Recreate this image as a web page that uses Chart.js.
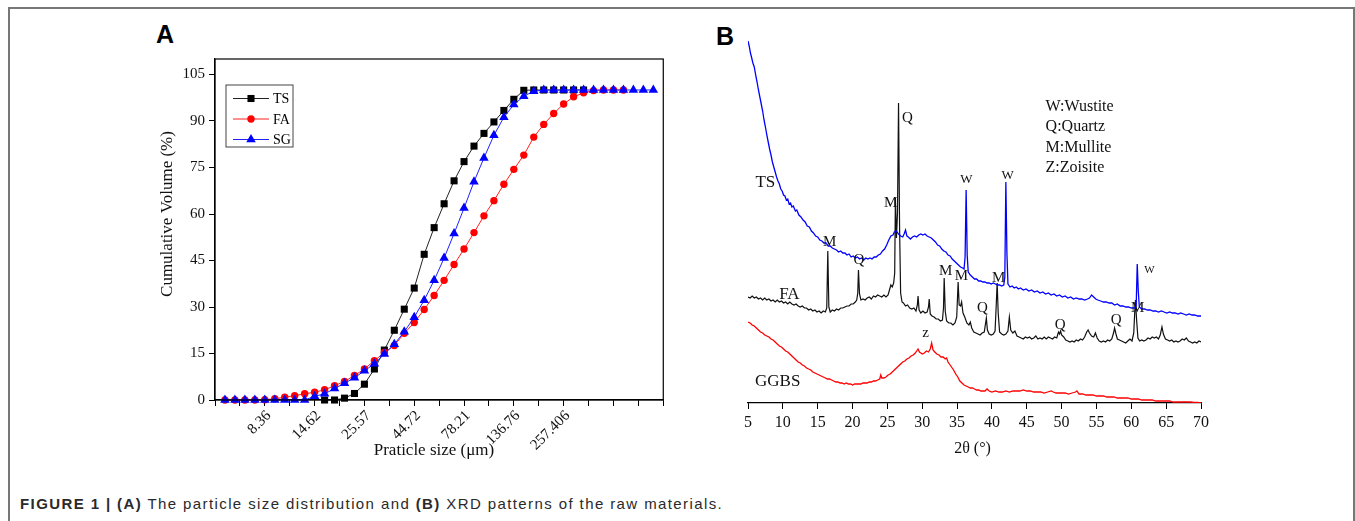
<!DOCTYPE html>
<html lang="en">
<head>
  <meta charset="UTF-8">
  <title>Particle size distribution and XRD patterns</title>
  <script src="https://cdn.jsdelivr.net/npm/chart.js"></script>
  <style>
    html, body {
      margin: 0;
      padding: 0;
      background: #fff;
    }
    body {
      width: 1355px;
      height: 521px;
      position: relative;
      overflow: hidden;
      font-family: 'Liberation Serif', 'Times New Roman', serif;
    }
    .frame {
      position: absolute;
      left: 8px;
      top: 7px;
      width: 1343px;
      height: 600px;
      border: 2px solid #777;
      border-bottom: none;
    }
    .tag {
      position: absolute;
      font: bold 25px 'Liberation Sans', Arial, sans-serif;
      line-height: 1;
      color: #000;
    }
    #tagA { left: 156px; top: 22px; }
    #tagB { left: 716px; top: 24px; }
    .caption {
      position: absolute;
      left: 20px;
      top: 496px;
      font: 15px 'Liberation Sans', Arial, sans-serif;
      letter-spacing: 1.4px;
      line-height: 1;
      color: #2a2a2a;
      white-space: nowrap;
    }
    canvas { position: absolute; }
    #psd { left: 158px; top: 46px; }
    #xrd { left: 700px; top: 30px; }
  </style>
</head>
<body>
  <div class="frame"></div>
  <div class="tag" id="tagA">A</div>
  <div class="tag" id="tagB">B</div>
  <canvas id="psd" width="519" height="424"></canvas>
  <canvas id="xrd" width="540" height="440"></canvas>
  <div class="caption"><b>FIGURE 1 | (A)</b> The particle size distribution and <b>(B)</b> XRD patterns of the raw materials.</div>

  <script>
    // ---- (A) particle size distribution: one value per sieve step ----
    const sizeTickSteps = [4, 9, 14, 19, 24, 29, 34];
    const sizeTickLabels = ['8.36', '14.62', '25.57', '44.72', '78.21', '136.76', '257.406'];
    const volumeTicks = [0, 15, 30, 45, 60, 75, 90, 105];

    const tsVolume = [null, null, null, null, null, null, null, null, null, null,
      0, 0, 0.6, 2.1, 5.1, 10.0, 16.1, 22.5, 29.3, 36.1, 47.0, 55.6, 63.3, 70.7, 76.9,
      81.9, 86.0, 89.7, 93.4, 97.0, 99.9, 100, 100, 100, 100, 100, 100];
    const faVolume = [0, 0, 0, 0, 0.1, 0.4, 0.9, 1.4, 2.0, 2.5, 3.3, 4.6, 6.0, 7.9, 10.0,
      12.7, 15.3, 17.6, 21.5, 25.0, 29.2, 33.7, 38.6, 43.7, 48.7, 54.0, 59.4, 64.3, 69.6,
      74.4, 79.0, 84.8, 88.9, 92.4, 95.5, 97.8, 99.1, 99.8, 100, 100, 100];
    const sgVolume = [0, 0, 0, 0, 0, 0, 0, 0, 0, 1.2, 2.0, 3.7, 5.4, 7.2, 9.4, 11.7, 14.8,
      18.0, 22.0, 26.7, 32.2, 38.6, 45.8, 53.7, 61.9, 70.4, 78.1, 85.4, 91.2, 95.3, 98.0,
      99.6, 100, 100, 100, 100, 100, 100, 100, 100, 100, 100, 100, 100];

    // ---- (B) XRD patterns: [2θ, counts above the baseline] ----
    const tsPattern = [[5.0,362],[5.2,356],[5.35,350],[5.5,346],[5.7,340],[5.9,336],[6.1,328],[6.3,321],[6.5,313],[6.7,306],[6.9,299],[7.1,292],[7.3,283],[7.5,276],[7.7,268],[7.9,261],[8.1,254],[8.3,248],[8.5,241],[8.7,236],[8.9,231],[9.1,226],[9.3,222],[9.5,219],[9.7,214],[9.9,212],[10.1,208],[10.3,207],[10.5,203],[10.7,204],[10.9,199],[11.1,200],[11.3,196],[11.5,197],[11.8,192],[12.0,193],[12.3,188],[12.6,186],[12.9,183],[13.2,181],[13.5,177],[13.8,176],[14.1,172],[14.4,170],[14.7,167],[15.0,166],[15.3,163],[15.6,162],[15.9,160],[16.2,160],[16.5,157],[16.8,157],[17.1,155],[17.4,154],[17.7,153],[18.0,151],[18.3,152],[18.6,150],[18.9,150],[19.2,148],[19.5,149],[19.8,146],[20.1,147],[20.4,145],[20.7,146],[21.0,144],[21.3,145],[21.6,143],[21.9,145],[22.2,144],[22.5,145],[22.8,144],[23.1,146],[23.4,146],[23.7,148],[24.0,149],[24.3,152],[24.6,154],[24.9,158],[25.2,163],[25.5,167],[25.8,168],[26.0,171],[26.3,172],[26.6,169],[26.9,167],[27.2,166],[27.4,169],[27.6,173],[27.8,167],[28.0,166],[28.3,164],[28.6,166],[28.9,167],[29.2,166],[29.5,168],[29.8,169],[30.1,168],[30.4,169],[30.7,167],[31.0,166],[31.3,165],[31.6,163],[31.9,161],[32.2,158],[32.5,157],[32.8,154],[33.1,152],[33.4,151],[33.7,148],[34.0,147],[34.3,144],[34.6,142],[34.9,140],[35.2,138],[35.5,136],[35.8,135],[36.0,134],[36.15,146],[36.3,213],[36.45,148],[36.6,131],[36.9,128],[37.2,126],[37.5,124],[37.8,124],[38.1,122],[38.4,122],[38.7,121],[39.0,121],[39.3,120],[39.6,120],[39.9,119],[40.2,120],[40.5,119],[40.8,118],[41.1,118],[41.4,117],[41.7,118],[41.85,126],[42.0,221],[42.15,150],[42.3,119],[42.6,116],[42.9,117],[43.2,115],[43.5,116],[43.8,114],[44.1,115],[44.5,113],[44.9,114],[45.3,112],[45.7,113],[46.1,111],[46.5,112],[46.9,110],[47.3,111],[47.7,109],[48.1,110],[48.5,108],[48.9,109],[49.3,107],[49.7,108],[50.1,106],[50.5,107],[50.9,105],[51.3,106],[51.7,104],[52.1,105],[52.5,104],[52.9,104],[53.3,103],[53.7,104],[54.0,105],[54.3,108],[54.6,106],[54.9,104],[55.2,103],[55.6,102],[56.0,101],[56.4,101],[56.8,100],[57.2,100],[57.6,98],[58.0,99],[58.4,97],[58.8,97],[59.2,96],[59.6,96],[60.0,95],[60.4,95],[60.7,97],[60.85,139],[61.0,112],[61.15,96],[61.5,94],[61.9,94],[62.3,93],[62.7,93],[63.1,92],[63.5,92],[63.9,91],[64.3,92],[64.7,91],[65.1,90],[65.5,91],[65.9,90],[66.3,90],[66.7,89],[67.1,90],[67.5,89],[67.9,88],[68.3,89],[68.7,88],[69.1,88],[69.5,87],[70.0,87]];

    const faPattern = [[5.0,106],[5.3,105],[5.6,107],[5.9,105],[6.2,106],[6.5,104],[6.8,105],[7.1,103],[7.4,105],[7.7,103],[8.0,104],[8.3,102],[8.6,103],[8.9,101],[9.2,103],[9.5,101],[9.8,102],[10.1,100],[10.4,101],[10.7,99],[11.0,101],[11.3,99],[11.6,98],[11.9,99],[12.2,97],[12.5,96],[12.8,97],[13.1,95],[13.4,95],[13.7,93],[14.0,94],[14.3,92],[14.6,93],[14.9,91],[15.2,92],[15.5,90],[15.8,92],[16.1,91],[16.3,95],[16.45,152],[16.6,96],[16.8,91],[17.1,93],[17.4,92],[17.7,94],[18.0,93],[18.3,95],[18.6,95],[18.9,96],[19.2,97],[19.5,97],[19.8,99],[20.1,99],[20.4,101],[20.6,103],[20.75,110],[20.85,133],[21.0,109],[21.2,103],[21.5,104],[21.8,103],[22.1,105],[22.4,106],[22.7,104],[23.0,107],[23.3,106],[23.6,108],[23.9,107],[24.2,106],[24.5,108],[24.8,106],[25.1,108],[25.3,113],[25.5,118],[25.7,116],[25.9,120],[26.05,130],[26.15,205],[26.3,165],[26.45,190],[26.6,300],[26.75,175],[26.9,110],[27.1,101],[27.3,100],[27.6,97],[27.9,98],[28.2,95],[28.5,94],[28.8,95],[29.1,92],[29.3,98],[29.4,107],[29.55,93],[29.8,90],[30.1,92],[30.4,90],[30.7,91],[30.9,96],[31.0,104],[31.15,89],[31.4,87],[31.7,86],[32.0,84],[32.3,84],[32.6,82],[32.9,83],[33.05,95],[33.15,125],[33.3,92],[33.5,82],[33.8,80],[34.1,80],[34.4,78],[34.7,80],[34.95,86],[35.15,121],[35.3,98],[35.5,97],[35.65,101],[35.85,90],[36.1,86],[36.4,80],[36.7,78],[36.9,81],[37.1,75],[37.4,71],[37.7,70],[38.0,69],[38.3,68],[38.6,70],[38.9,71],[39.05,78],[39.2,85],[39.35,73],[39.6,69],[39.9,68],[40.2,69],[40.45,72],[40.6,95],[40.75,120],[40.9,90],[41.1,71],[41.4,69],[41.7,68],[42.0,69],[42.3,72],[42.5,86],[42.7,73],[43.0,70],[43.3,72],[43.6,67],[43.9,66],[44.2,65],[44.5,64],[44.8,66],[45.1,65],[45.4,66],[45.7,64],[46.0,65],[46.3,67],[46.6,64],[46.9,65],[47.2,64],[47.5,66],[47.8,64],[48.1,66],[48.4,65],[48.7,64],[49.0,66],[49.3,65],[49.55,71],[49.7,69],[49.85,72],[50.0,68],[50.3,66],[50.6,63],[50.9,62],[51.2,61],[51.5,62],[51.8,61],[52.1,63],[52.4,62],[52.7,64],[53.0,63],[53.3,66],[53.6,71],[53.8,73],[54.0,70],[54.3,67],[54.6,66],[54.85,70],[55.1,65],[55.4,62],[55.7,61],[56.0,62],[56.3,61],[56.6,63],[56.9,62],[57.2,64],[57.45,70],[57.6,75],[57.8,69],[58.0,64],[58.3,63],[58.6,62],[58.9,61],[59.2,60],[59.5,62],[59.8,64],[60.1,62],[60.35,70],[60.5,92],[60.6,103],[60.75,84],[60.95,65],[61.2,62],[61.5,63],[61.8,62],[62.1,63],[62.4,65],[62.7,64],[63.0,66],[63.3,65],[63.6,66],[63.9,64],[64.15,68],[64.4,76],[64.6,69],[64.9,64],[65.2,63],[65.5,62],[65.8,63],[66.1,61],[66.4,62],[66.7,61],[67.0,62],[67.3,64],[67.6,63],[67.9,65],[68.2,62],[68.5,61],[68.8,60],[69.1,61],[69.4,60],[69.7,62],[70.0,61]];

    const ggbsPattern = [[5.0,81],[5.3,80],[5.6,78],[5.9,77],[6.2,75],[6.5,73],[6.8,71],[7.1,70],[7.4,68],[7.7,67],[8.0,66],[8.3,64],[8.6,63],[8.9,61],[9.2,59],[9.5,57],[9.8,56],[10.1,54],[10.4,52],[10.7,51],[11.0,49],[11.3,47],[11.6,45],[11.9,43],[12.2,41],[12.5,40],[12.8,38],[13.1,37],[13.4,35],[13.7,34],[14.0,33],[14.3,31],[14.6,30],[14.9,29],[15.2,28],[15.5,27],[15.8,26],[16.1,25],[16.4,24],[16.7,24],[17.0,23],[17.3,22],[17.6,21],[17.9,21],[18.2,20],[18.5,20],[18.8,19],[19.1,20],[19.4,19],[19.7,19],[20.0,18],[20.3,19],[20.6,19],[20.9,19],[21.2,19],[21.5,20],[21.8,20],[22.1,20],[22.4,21],[22.7,21],[23.0,22],[23.3,22],[23.6,23],[23.9,24],[24.05,28],[24.2,25],[24.5,25],[24.8,26],[25.1,28],[25.4,29],[25.7,31],[26.0,33],[26.3,35],[26.6,37],[26.9,39],[27.2,41],[27.5,42],[27.8,44],[28.1,45],[28.4,47],[28.7,48],[29.0,50],[29.2,52],[29.4,54],[29.6,51],[29.8,50],[30.0,49],[30.3,50],[30.6,52],[30.9,51],[31.15,54],[31.35,60],[31.55,53],[31.8,51],[32.1,49],[32.4,48],[32.7,46],[33.0,46],[33.3,44],[33.5,45],[33.7,41],[33.9,39],[34.2,36],[34.5,33],[34.8,29],[35.1,26],[35.4,22],[35.7,20],[36.0,18],[36.3,17],[36.6,16],[36.9,15],[37.2,15],[37.5,14],[37.8,13],[38.1,13],[38.4,12],[38.7,12],[39.0,12],[39.3,14],[39.6,12],[40.0,11],[40.5,12],[41.0,11],[41.5,11],[42.0,12],[42.5,11],[43.0,12],[43.5,12],[44.0,12],[44.5,13],[45.0,12],[45.5,12],[46.0,11],[46.5,11],[47.0,11],[47.5,10],[48.0,11],[48.5,12],[48.8,11],[49.2,10],[49.6,10],[50.0,10],[50.5,10],[51.0,9],[51.5,10],[52.0,11],[52.2,12],[52.5,9],[53.0,9],[53.5,8],[54.0,8],[54.5,8],[55.0,7],[55.5,7],[56.0,7],[56.5,6],[57.0,6],[57.5,6],[58.0,5],[58.5,5],[59.0,5],[59.5,5],[60.0,4],[60.5,4],[61.0,4],[61.5,3],[62.0,3],[62.5,3],[63.0,3],[63.5,2],[64.0,2],[64.5,2],[65.0,2],[65.5,2],[66.0,1],[66.5,1],[67.0,1],[67.5,1],[68.0,1],[68.5,1],[69.0,0.5],[69.5,0.5],[70.0,0]];

    // phase marks placed in data space: [text, 2θ, counts, font size]
    const phaseMarks = [
      ['TS', 7.49, 220, 17], ['FA', 10.94, 108, 17], ['GGBS', 9.26, 21, 17],
      ['M', 16.73, 161, 15], ['Q', 20.9, 143, 15], ['M', 25.46, 200, 15],
      ['Q', 27.86, 285, 15], ['W', 36.34, 223, 13], ['W', 42.24, 227, 13],
      ['M', 33.37, 132, 15], ['M', 35.63, 127, 15], ['Q', 38.65, 95, 15],
      ['M', 40.95, 125, 15], ['Q', 49.8, 78, 15], ['Q', 57.81, 83, 15],
      ['M', 60.93, 95, 15], ['W', 62.6, 133, 11], ['z', 30.49, 70, 15]
    ];
    const phaseKey = ['W:Wustite', 'Q:Quartz', 'M:Mullite', 'Z:Zoisite'];

    const serif = "'Liberation Serif', 'Times New Roman', serif";

    // frame around the plot area
    const boxFrame = {
      id: 'boxFrame',
      afterDraw(chart) {
        const { ctx, chartArea: a } = chart;
        ctx.save();
        ctx.strokeStyle = '#000';
        ctx.lineWidth = 1.2;
        ctx.strokeRect(a.left, a.top, a.right - a.left, a.bottom - a.top);
        ctx.restore();
      }
    };

    // boxed legend in the upper left corner of panel A
    const psdLegend = {
      id: 'psdLegend',
      afterDraw(chart) {
        const { ctx, chartArea: a } = chart;
        const x0 = a.left + 11, y0 = a.top + 26;
        ctx.save();
        ctx.strokeStyle = '#444';
        ctx.lineWidth = 1;
        ctx.strokeRect(x0, y0, 67, 62);
        chart.data.datasets.forEach((ds, i) => {
          const y = y0 + 13.5 + i * 20.5;
          ctx.strokeStyle = ds.borderColor;
          ctx.lineWidth = ds.borderWidth;
          ctx.beginPath();
          ctx.moveTo(x0 + 7, y);
          ctx.lineTo(x0 + 43, y);
          ctx.stroke();
          ctx.fillStyle = ds.pointBackgroundColor;
          ctx.strokeStyle = ds.pointBackgroundColor;
          Chart.helpers.drawPoint(ctx, { pointStyle: ds.pointStyle, radius: ds.pointRadius, borderWidth: 0, rotation: 0 }, x0 + 25, y);
          ctx.fillStyle = '#000';
          ctx.font = '14px ' + serif;
          ctx.textBaseline = 'middle';
          ctx.fillText(ds.label, x0 + 47, y + 1);
        });
        ctx.restore();
      }
    };

    // axis titles of panel A
    const psdTitles = {
      id: 'psdTitles',
      afterDraw(chart) {
        const { ctx, chartArea: a } = chart;
        ctx.save();
        ctx.fillStyle = '#111';
        ctx.font = '17px ' + serif;
        ctx.textAlign = 'center';
        ctx.textBaseline = 'middle';
        ctx.fillText('Praticle size (\u03bcm)', a.left + 219, a.bottom + 51);
        ctx.translate(a.left - 47, a.top + 155);
        ctx.rotate(-Math.PI / 2);
        ctx.fillText('Cumulative Volume (%)', 0, 0);
        ctx.restore();
      }
    };

    // phase letters, curve names, key and axis title of panel B
    const xrdNotes = {
      id: 'xrdNotes',
      afterDatasetsDraw(chart) {
        const { ctx, chartArea: a, scales: { x, y } } = chart;
        ctx.save();
        ctx.fillStyle = '#111';
        ctx.textAlign = 'center';
        ctx.textBaseline = 'middle';
        phaseMarks.forEach(([txt, ang, cnt, size]) => {
          ctx.font = size + 'px ' + serif;
          ctx.fillText(txt, x.getPixelForValue(ang), y.getPixelForValue(cnt));
        });
        ctx.font = '16px ' + serif;
        ctx.textAlign = 'left';
        phaseKey.forEach((txt, i) => {
          ctx.fillText(txt, x.getPixelForValue(47.7), y.getPixelForValue(296 - i * 20.2));
        });
        ctx.textAlign = 'center';
        ctx.font = '16px ' + serif;
        ctx.fillText('2\u03b8 (\u00b0)', (a.left + a.right) / 2 - 2, a.bottom + 46);
        ctx.restore();
      }
    };

    const toPoints = arr => arr
      .map((v, i) => (v === null ? null : { x: i, y: v }))
      .filter(p => p !== null);
    const toXY = arr => arr.map(([a, c]) => ({ x: a, y: c }));

    const sizeSteps = [];
    for (let k = 0; k <= 18; k++) sizeSteps.push(-1 + 2.5 * k);

    const tickFont = { family: serif, size: 15 };

    new Chart(document.getElementById('psd'), {
      type: 'line',
      data: {
        datasets: [
          { label: 'TS', data: toPoints(tsVolume), order: 3, borderColor: '#222', borderWidth: 1,
            pointStyle: 'rect', pointRadius: 5, pointBackgroundColor: '#000', pointBorderColor: '#000',
            pointBorderWidth: 0, clip: false },
          { label: 'FA', data: toPoints(faVolume), order: 2, borderColor: '#ff2020', borderWidth: 1,
            pointStyle: 'circle', pointRadius: 3.7, pointBackgroundColor: '#ff0000', pointBorderColor: '#ff0000',
            pointBorderWidth: 0, clip: false },
          { label: 'SG', data: toPoints(sgVolume), order: 1, borderColor: '#2020ff', borderWidth: 1,
            pointStyle: 'triangle', pointRadius: 5.5, pointBackgroundColor: '#0000ff', pointBorderColor: '#0000ff',
            pointBorderWidth: 0, clip: false }
        ]
      },
      options: {
        responsive: false,
        animation: false,
        devicePixelRatio: 1,
        layout: { padding: { top: 12, right: 10, left: 0, bottom: 0 } },
        plugins: { legend: { display: false }, tooltip: { enabled: false } },
        scales: {
          x: {
            type: 'linear',
            min: -1,
            max: 44,
            afterBuildTicks: ax => { ax.ticks = sizeSteps.map(v => ({ value: v })); },
            afterFit: ax => { ax.height = 70; },
            ticks: {
              autoSkip: false,
              minRotation: 45,
              maxRotation: 45,
              padding: 1,
              labelOffset: 4,
              color: '#111',
              font: tickFont,
              callback: v => {
                const i = sizeTickSteps.indexOf(v);
                return i < 0 ? '' : sizeTickLabels[i];
              }
            },
            grid: { drawOnChartArea: false, drawTicks: true, tickLength: 6, color: '#000', lineWidth: 1 },
            border: { display: true, color: '#000', width: 1.2 }
          },
          y: {
            min: 0,
            max: 110,
            afterBuildTicks: ax => { ax.ticks = volumeTicks.map(v => ({ value: v })); },
            afterFit: ax => { ax.width = 57; },
            ticks: { padding: 4, color: '#111', font: tickFont },
            grid: { drawOnChartArea: false, drawTicks: true, tickLength: 6, color: '#000', lineWidth: 1 },
            border: { display: true, color: '#000', width: 1.2 }
          }
        }
      },
      plugins: [boxFrame, psdLegend, psdTitles]
    });

    new Chart(document.getElementById('xrd'), {
      type: 'line',
      data: {
        datasets: [
          { label: 'TS', data: toXY(tsPattern), borderColor: '#0000ff', borderWidth: 1.3, pointRadius: 0 },
          { label: 'FA', data: toXY(faPattern), borderColor: '#111', borderWidth: 1.2, pointRadius: 0 },
          { label: 'GGBS', data: toXY(ggbsPattern), borderColor: '#ff0000', borderWidth: 1.3, pointRadius: 0 }
        ]
      },
      options: {
        responsive: false,
        animation: false,
        devicePixelRatio: 1,
        layout: { padding: { top: 0, right: 39, left: 48, bottom: 7 } },
        plugins: { legend: { display: false }, tooltip: { enabled: false } },
        scales: {
          x: {
            type: 'linear',
            min: 5,
            max: 70,
            afterFit: ax => { ax.height = 60; },
            ticks: { stepSize: 5, autoSkip: false, maxRotation: 0, padding: 4, color: '#111', font: { family: serif, size: 16 } },
            grid: { drawOnChartArea: false, drawTicks: true, tickLength: 6, color: '#000', lineWidth: 1 },
            border: { display: true, color: '#000', width: 1.2 }
          },
          y: { display: false, min: 0, max: 373 }
        }
      },
      plugins: [xrdNotes]
    });
  </script>
</body>
</html>
